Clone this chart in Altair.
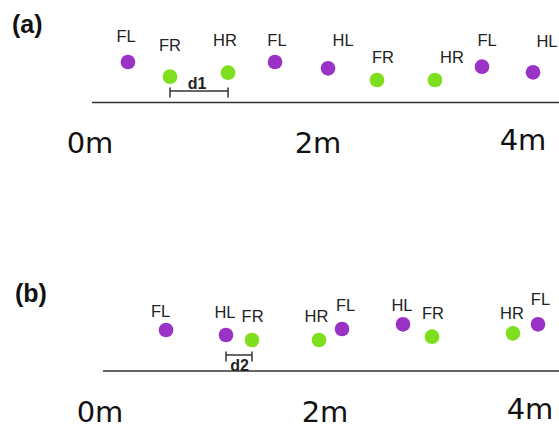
import altair as alt
import pandas as pd

PURPLE = "#9b32c6"
GREEN = "#7fdf1f"
INK = "#222222"

# ---- Panel (a): footfall positions (m) and marker heights above the ground line
a_feet = ["FL", "FR", "HR", "FL", "HL", "FR", "HR", "FL", "HL"]
a_x = [0.333, 0.702, 1.211, 1.623, 2.098, 2.576, 3.141, 3.600, 4.098]
a_h = [4.05, 2.58, 2.98, 4.05, 3.42, 2.25, 2.25, 3.58, 3.02]
a_label_x = [0.316, 0.702, 1.184, 1.640, 2.244, 2.634, 3.307, 3.649, 4.234]
a_label_h = [6.55, 5.7, 6.15, 6.15, 6.2, 4.45, 4.45, 6.15, 6.05]

# ---- Panel (b)
b_feet = ["FL", "HL", "FR", "HR", "FL", "HL", "FR", "HR", "FL"]
b_x = [0.587, 1.12, 1.351, 1.947, 2.166, 2.761, 3.044, 3.834, 4.078]
b_h = [4.1, 3.6, 3.1, 3.1, 4.2, 4.67, 3.43, 3.77, 4.67]
b_label_x = [0.538, 1.111, 1.356, 1.924, 2.2, 2.751, 3.054, 3.824, 4.102]
b_label_h = [5.9, 5.85, 5.4, 5.45, 6.5, 6.5, 5.7, 5.7, 7.15]

# ---- Distance markers (d1, d2)
gap_names = ["d1", "d2"]
gap_start = [0.702, 1.12]
gap_end = [1.211, 1.351]
gap_h = [1.15, 1.6]
gap_text_x = [0.939, 1.24]
gap_text_h = [1.35, 0.05]

# ---- Distance ruler labels
tick_text = ["0m", "2m", "4m"]
tick_x = [0, 2, 4]
tick_h = [-5.05, -5.05, -4.75]

# ---- Ground line extent and panel tags
ground_start = [0.018, 0.027]
ground_end = 4.5
tags = ["(a)", "(b)"]
tag_x = [-0.684, -0.756]
tag_h = [7.75, 7.7]


def panel(i, feet, xs, hs, lxs, lhs, x_range, y_domain, height):
    xsc = alt.Scale(domain=[0, 2, 4], range=x_range, nice=False, zero=False)
    ysc = alt.Scale(domain=y_domain, nice=False, zero=False)

    def X(f):
        return alt.X(f"{f}:Q", scale=xsc, axis=None)

    def Y(f):
        return alt.Y(f"{f}:Q", scale=ysc, axis=None)

    steps = pd.DataFrame({
        "foot": feet, "x": xs, "h": hs, "lx": lxs, "lh": lhs,
        "side": ["left" if f.endswith("L") else "right" for f in feet],
    })
    ground = pd.DataFrame({"x": [ground_start[i]], "x2": [ground_end], "h": [0.0]})
    bracket = pd.DataFrame({"x": [gap_start[i]], "x2": [gap_end[i]], "h": [gap_h[i]]})
    bracket_ends = pd.DataFrame({
        "x": [gap_start[i], gap_end[i]],
        "top": [gap_h[i] + 0.35] * 2,
        "bottom": [gap_h[i] - 0.65] * 2,
    })
    gap_lbl = pd.DataFrame({"x": [gap_text_x[i]], "h": [gap_text_h[i]], "t": [gap_names[i]]})
    ticks = pd.DataFrame({"x": tick_x, "h": tick_h, "t": tick_text})
    tag = pd.DataFrame({"x": [tag_x[i]], "h": [tag_h[i]], "t": [tags[i]]})

    line = alt.Chart(ground).mark_rule(color="#333333", strokeWidth=1.6, clip=True).encode(
        x=X("x"), x2="x2", y=Y("h"))
    br = alt.Chart(bracket).mark_rule(color="#333333", strokeWidth=1.5).encode(
        x=X("x"), x2="x2", y=Y("h"))
    br_ends = alt.Chart(bracket_ends).mark_rule(color="#333333", strokeWidth=1.5).encode(
        x=X("x"), y=Y("top"), y2="bottom")
    dots = alt.Chart(steps).mark_circle(size=215, opacity=1).encode(
        x=X("x"), y=Y("h"),
        color=alt.Color("side:N", scale=alt.Scale(domain=["left", "right"],
                                                  range=[PURPLE, GREEN]), legend=None))
    names = alt.Chart(steps).mark_text(
        font="Liberation Sans", fontSize=16.5, color=INK, baseline="middle", align="center"
    ).encode(x=X("lx"), y=Y("lh"), text="foot:N")
    gap_text = alt.Chart(gap_lbl).mark_text(
        font="Liberation Sans", fontSize=16, fontWeight="bold", color=INK,
        baseline="alphabetic", align="center"
    ).encode(x=X("x"), y=Y("h"), text="t:N")
    tick_text_layer = alt.Chart(ticks).mark_text(
        font="DejaVu Sans", fontSize=29, color="#111111", baseline="alphabetic", align="center"
    ).encode(x=X("x"), y=Y("h"), text="t:N")
    tag_text = alt.Chart(tag).mark_text(
        font="Liberation Sans", fontSize=25, fontWeight="bold", color="#111111",
        baseline="middle", align="left"
    ).encode(x=X("x"), y=Y("h"), text="t:N")

    return alt.layer(line, br, br_ends, dots, names, gap_text, tick_text_layer, tag_text
                     ).properties(width=559, height=height)


top = panel(0, a_feet, a_x, a_h, a_label_x, a_label_h,
            x_range=[90, 318, 523], y_domain=[-10.95, 10.25], height=212)
bottom = panel(1, b_feet, b_x, b_h, b_label_x, b_label_h,
               x_range=[100, 325, 530], y_domain=[-5.4, 15.9], height=213)

chart = alt.vconcat(top, bottom, spacing=0, bounds="flush").properties(
    padding=0, background="white"
).configure_view(stroke=None)

chart.save("out.html", embed_options={"renderer": "svg", "actions": False})
